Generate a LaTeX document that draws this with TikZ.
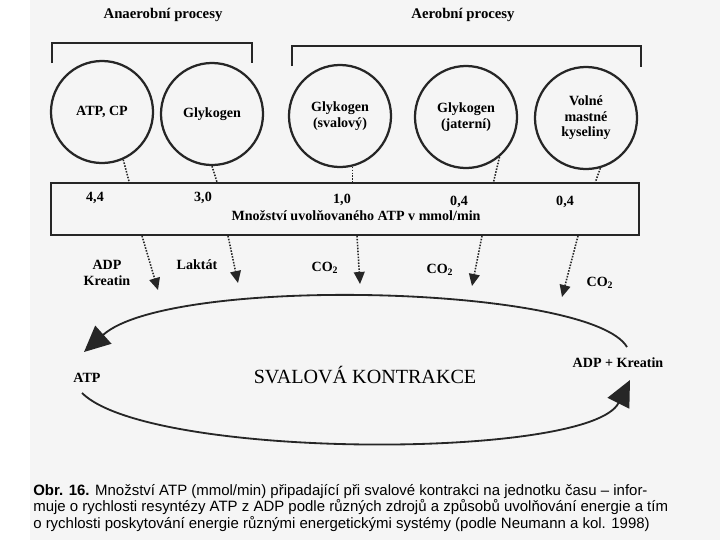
\documentclass[tikz,border=0pt]{standalone}
\usepackage{fontspec}
\setmainfont{Liberation Serif}
\newfontfamily\capfont{Liberation Sans}
\usetikzlibrary{arrows.meta,calc}

\begin{document}
\begin{tikzpicture}[x=0.025cm,y=-0.025cm,
  font=\bfseries\fontsize{10}{11}\selectfont,
  zdroj/.style={circle,draw=black!85,line width=1.6pt,minimum size=2.55cm,inner sep=0pt,align=center},
  txt/.style={inner sep=0pt,align=center},
  tecky/.style={draw=black!85,line width=1.1pt,densely dotted},
  sipka/.style={tecky,-{Triangle[length=0.3cm,width=0.27cm]}},
  oblouk/.style={draw=black!85,line width=1.3pt,-{Triangle[length=0.65cm,width=0.6cm]}}]
  \useasboundingbox (0,0) rectangle (720,540);
  \fill[black!4] (30,0) rectangle (720,540);
  % nadpisy a zavorky
  \node[txt,font=\bfseries\fontsize{10.5}{12}\selectfont] (anaer) at (163,15) {Anaerobní procesy};
  \node[txt,font=\bfseries\fontsize{10.5}{12}\selectfont] (aer) at (463,15) {Aerobní procesy};
  \draw[black!85,line width=0.9pt] (52,63) |- (252,43) -- (252,63);
  \draw[black!85,line width=0.9pt] (292,66) |- (641,46) -- (641,67);
  % zdroje
  \node[zdroj] (atpcp) at (102,112) {ATP, CP};
  \node[zdroj] (glyk) at (212,114) {Glykogen};
  \node[zdroj] (glyksv) at (340,116) {Glykogen\\(svalový)};
  \node[zdroj] (glykjat) at (466,117) {Glykogen\\(jaterní)};
  \node[zdroj] (mastne) at (586,118) {Volné\\mastné\\kyseliny};
  % ramecek
  \node[draw=black!85,line width=1.3pt,minimum width=14.7cm,minimum height=1.3cm,inner sep=0pt] (mnozstvi) at (345,209) {};
  \node[txt] (popis) at (356,216) {Množství uvolňovaného ATP v mmol/min};
  \node[txt] (h1) at (95,198) {4,4};
  \node[txt] (h2) at (203,198) {3,0};
  \node[txt] (h3) at (342,200) {1,0};
  \node[txt] (h4) at (459,202) {0,4};
  \node[txt] (h5) at (565,202) {0,4};
  \draw[tecky] (atpcp.-66) -- ($(atpcp.-66 |- mnozstvi.north)+(6,0)$);
  \draw[tecky] (glyk.-90) -- ($(glyk.-90 |- mnozstvi.north)+(5,0)$);
  \draw[tecky] (glyksv.-76) -- (glyksv.-76 |- mnozstvi.north);
  \draw[tecky] (glykjat.-50) -- ($(glykjat.-50 |- mnozstvi.north)+(-6,0)$);
  \draw[tecky] (mastne.-74) -- ($(mastne.-74 |- mnozstvi.north)+(-5,0)$);
  % produkty
  \node[txt] (adpkr) at (107,273) {ADP\\Kreatin};
  \node[txt] (laktat) at (197,265) {Laktát};
  \node[txt] (co1) at (325,268) {CO\textsubscript{2}};
  \node[txt] (co2) at (440,270) {CO\textsubscript{2}};
  \node[txt] (co3) at (600,283) {CO\textsubscript{2}};
  \coordinate (k1) at (158,290);
  \coordinate (k2) at (238,283);
  \coordinate (k3) at (360,284);
  \coordinate (k4) at (472,286);
  \coordinate (k5) at (562,297);
  \draw[sipka] ($(k1 |- mnozstvi.south)+(-16,0)$) -- (k1);
  \draw[sipka] ($(k2 |- mnozstvi.south)+(-10,0)$) -- (k2);
  \draw[sipka] ($(k3 |- mnozstvi.south)+(-3,0)$) -- (k3);
  \draw[sipka] ($(k4 |- mnozstvi.south)+(10,0)$) -- (k4);
  \draw[sipka] ($(k5 |- mnozstvi.south)+(16,0)$) -- (k5);
  % kontrakce
  \node[txt,font=\fontsize{14.3}{16}\selectfont] (kontrakce) at (365,375) {SVALOVÁ KONTRAKCE};
  \node[txt] (atp) at (87,378) {ATP};
  \node[txt] (adpplus) at (618,363) {ADP + Kreatin};
  \coordinate (horni) at (627,347);
  \coordinate (vlevo) at (84,352);
  \coordinate (dolni) at (82,393);
  \coordinate (vpravo) at (630,380);
  \draw[oblouk] (horni) .. controls (590,285) and (170,275) .. (vlevo);
  \draw[oblouk] (dolni) .. controls (150,460) and (590,460) .. (vpravo);
  % popisek
  \node[anchor=north west,inner sep=0pt,align=left,font=\capfont\fontsize{10.65}{11.8}\selectfont] (obr) at (33,484)
    {\textbf{Obr. 16.} Množství ATP (mmol/min) připadající při svalové kontrakci na jednotku času – infor-\\
     muje o rychlosti resyntézy ATP z ADP podle různých zdrojů a způsobů uvolňování energie a tím\\
     o rychlosti poskytování energie různými energetickými systémy (podle Neumann a kol. 1998)};
\end{tikzpicture}
\end{document}
